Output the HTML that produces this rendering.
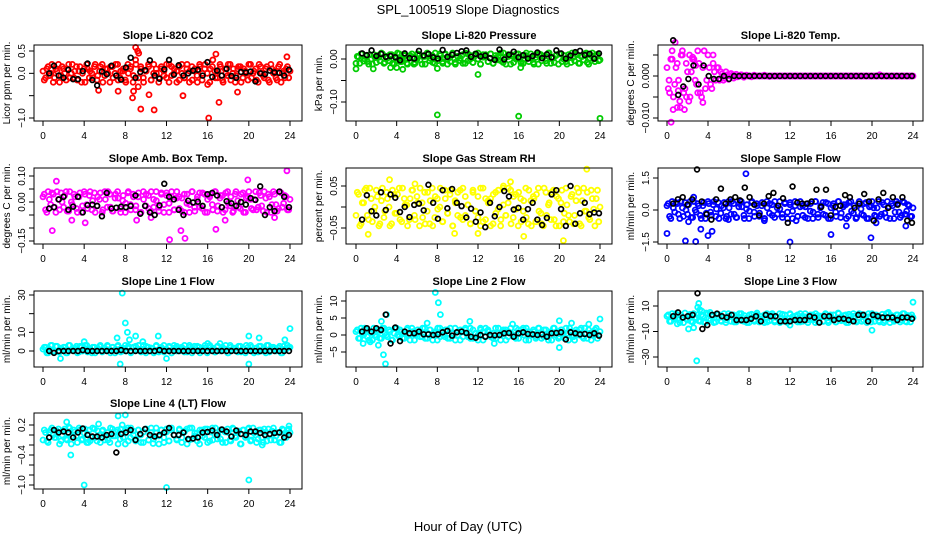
<!DOCTYPE html>
<html><head><meta charset="utf-8"><style>
html,body{margin:0;padding:0;background:#fff;}
svg{display:block;font-family:"Liberation Sans",sans-serif;}
</style></head>
<body>
<svg id="chart" width="936" height="540" viewBox="0 0 936 540">
<text x="468" y="14" text-anchor="middle" font-size="13">SPL_100519  Slope Diagnostics</text>
<text x="468" y="531" text-anchor="middle" font-size="13">Hour of Day (UTC)</text>
</svg>
<script>
// ---- data arrays (colored = all slopes; black = selected slopes) ----
const co2Vals=[.05,-.1,.15,0,-.2,.1,.2,-.05,.1,-.15,.2,0,-.1,.15,.05,-.2,.1,.2,-.1,0,.15,-.15,.05,.2,-.05,.1,-.2,.15,0,.2,-.1,.05,-.15,.2,.1,-.2,.3,-.3,.15,-.1,.05,.2,-.15,0,.1,-.2,.15,.05,-.1,.2,-.05,.1,-.2,.15,0,-.1,.2,.05,-.15,.1,-.2,.15,0,.2,-.25,.1,.3,-.1,.05,.15,-.2,0,.2,-.15,.1,-.05,.15,-.2,.1,0,.2,-.1,.05,-.15,.2,0,-.1,.15,-.2,.1,.05,-.15,.2,0,-.1,.15,.05];
const co2Vals2=[-.15,.1,-.05,.2,-.1,.05,-.2,.15,0,.1,-.1,.2,.05,-.15,.15,0,-.2,.1,.05,-.1,.2,-.05,.15,-.2,.1,0,.15,-.1,.2,-.15,.05,.1,-.2,0,.15,-.05,.2,-.1,.1,-.2,.05,.15,-.15,.2,0,-.1,.1,-.05,.2,-.2,.15,0,.05,-.15,.2,-.1,.1,-.2,.15,.05,-.05,.2,-.15,.1,0,-.2,.15,.05,-.1,.2,-.15,.1,-.05,.2,0,-.2,.1,.15,-.1,.05,-.15,.2,0,.1,-.2,.15,-.05,.1,-.15,.2,0,-.1,.15,-.2,.05,.1,-.1];
const co2OutX=[9,9.2,9.3,8.7,9.5,10.8,16.1,17.1,13.6,16.8,23.7,5.4,7.3,18.9,8.8,10.3];
const co2OutY=[.58,.5,.45,-.55,-.8,-.82,-1,-.65,-.5,.43,.37,-.38,-.4,-.42,-.4,-.48];
const co2Black=[0,.17,-.05,-.1,.08,-.13,-.13,.05,.22,-.15,-.27,.04,-.02,.17,-.05,-.14,.13,.35,-.1,.03,.07,.29,-.05,-.12,.09,.3,-.03,.18,-.05,0,.06,.08,-.05,.25,-.08,.06,-.05,.1,-.06,-.1,.03,.02,.04,-.18,0,-.02,.06,.02,.01,-.05,.08];

const presVals=[-.01,.005,.012,-.005,.008,-.012,0,.01,-.008,.004,.014,-.01,.006,-.004,.01,-.012,.002,.012,-.006,.008,-.01,.004,.012,-.008,0,.01,-.012,.006,.014,-.004,.008,-.01,.002,.012,-.006,.01,-.012,.004,.014,-.008,.006,-.004,.01,-.01,.012,0,-.008,.008,.014,-.012,.004,.01,-.006,.012,-.01,.002,.008,-.004,.014,-.012,.006,.01,-.008,.012,0,-.01,.008,.014,-.006,.004,-.012,.01,.012,-.004,.006,-.01,.014,.002,-.008,.01,.012,-.006,.008,-.012,.004,.014,-.004,.01,-.01,.006,.012,-.008,.002,.014,-.006,.01,-.002];
const presVals2=[.006,-.01,.012,0,-.006,.01,-.012,.004,.008,-.004,.012,-.008,.002,.01,-.01,.006,.014,-.006,0,.01,-.012,.008,.004,-.01,.012,-.002,.006,-.012,.01,.002,-.008,.014,-.004,.008,-.01,.012,0,-.006,.01,-.012,.006,.002,-.01,.014,-.004,.008,-.008,.012,0,-.012,.01,.004,-.006,.012,-.01,.008,-.002,.014,-.008,.004,.01,-.012,.006,0,.012,-.006,-.01,.008,.002,.012,-.008,.004,-.012,.01,.006,-.004,.014,-.01,.002,.008,-.012,.012,0,-.006,.01,-.008,.004,.012,-.01,.006,-.002,.014,-.012,.008,0,.01,-.004];
const presOutX=[0,1.7,3.4,4,4.6,8,12,8,16,24,16.2,5.7];
const presOutY=[-.023,-.023,-.02,-.02,-.024,-.022,-.036,-.13,-.133,-.138,-.02,-.012];
const presBlack=[.013,.009,.02,.007,.012,.005,.007,.004,-.003,.013,.002,.001,.019,.008,.012,.004,.001,.021,.005,.01,.014,.018,.02,.005,.012,.006,.008,.002,-.002,.022,-.001,.01,.017,.004,.009,.001,.007,.015,.002,.011,.004,.02,.013,.001,.008,.016,.019,.009,.012,.001,.013];

const tempVals=[.002,-.004,.006,-.002,.003,-.006,.005,-.003,.001,-.005,.004,-.001,.006,-.004,.002,-.003,.005,-.002,.003,-.001,.002,.001,-.001,.001,-.0008,.0006,-.0005,.0004,0,.0003,-.0003,.0002,0,-.0002,.0002,0,0,0,.0002,0,-.0001,0,0,0,0,0,0,0,0,0,0,0,0,0,0,0,0,0,0,0,0,0,0,0,0,0,0,0,0,0,0,0,0,0,0,0,0,0,0,0,0,0,0,.0003,0,0,0,0,0,0,0,0,0,0,0,0,0];
const tempVals2=[-.003,.004,-.005,.002,-.001,.005,-.004,.003,-.006,.001,.004,-.002,.003,-.005,.006,-.001,.002,-.003,.001,.002,-.001,.0005,-.0005,.0003,0,.0002,0,-.0002,0,0,0,0,0,0,0,0,0,0,0,0,0,0,0,0,0,0,0,0,0,0,0,0,0,0,0,0,0,0,0,0,0,0,0,0,0,0,0,0,0,0,0,0,0,0,0,0,0,0,0,0,0,0,0,0,0,0,0,0,0,0,0,0,0,0,0,0];
const tempOutX=[.4,.8,.6,1,1.3,1.7,3.5,4.5,2.2,1.9,.2,.5,1.5,2.5,3,2.8,1.1];
const tempOutY=[-.011,.008,-.008,-.0075,-.0075,-.008,-.0063,.005,.005,-.005,-.001,.004,.006,.0045,-.004,.0025,-.0035];
const tempBlack=[.0085,-.0045,-.0025,-.0007,.0025,-.002,.0025,0,-.0007,-.0007,0,-.0007,0,0,0,0,0,0,0,0,0,0,0,0,0,0,0,0,0,0,0,0,0,0,0,0,0,0,0,0,0,0,0,0,0,0,0,0];

const boxVals=[.02,-.03,.04,-.01,.03,-.04,.01,.035,-.02,.04,-.035,0,.03,-.025,.02,-.04,.04,-.01,.025,-.03,.035,-.015,.01,-.04,.04,-.02,.03,-.035,.015,.04,-.025,.005,-.04,.035,-.01,.03,-.03,.02,-.04,.04,-.015,.025,-.035,.01,.04,-.02,.03,-.04,.035,-.005,.02,-.03,.04,-.025,.015,-.04,.03,-.01,.04,-.035,.02,-.02,.035,-.04,.01,.03,-.03,.04,-.015,.025,-.04,.035,-.005,.02,-.035,.04,-.02,.03,-.04,.015,.04,-.025,.01,-.03,.035,-.015,.04,-.04,.02,-.01,.03,-.035,.04,-.02,.025,-.03,.01];
const boxVals2=[.03,-.04,.01,.035,-.02,.04,-.03,0,.025,-.035,.04,-.01,.02,-.04,.035,-.015,.03,-.025,.04,.005,-.04,.02,.035,-.03,.01,.04,-.02,-.035,.03,.015,-.04,.025,-.005,.04,-.03,.02,-.015,.035,-.04,.01,.03,-.025,.04,-.02,.005,-.035,.035,-.01,.025,-.04,.04,-.03,.015,.02,-.035,.03,-.005,-.04,.04,-.02,.01,.035,-.025,.03,-.04,.02,-.01,.04,-.035,.015,.025,-.03,.04,-.015,-.04,.03,.005,-.025,.035,-.04,.02,.01,-.03,.04,-.02,.025,-.035,.015,.03,-.04,.04,-.01,-.025,.035,-.005,.02,-.03];
const boxOutX=[.9,1.3,12.3,13.8,13.4,16.8,23.7,19.9,4.1,9.1,10.5,22.5,2.8,17.7];
const boxOutY=[-.11,.08,-.145,-.14,-.11,-.105,.12,.085,-.08,-.07,-.06,-.06,-.07,-.07];
const boxBlack=[-.025,-.02,.01,.02,-.03,-.018,.02,-.04,-.012,-.01,-.015,-.055,.035,-.025,-.022,-.018,-.02,-.015,.025,-.045,-.015,-.04,-.05,-.013,.07,.02,.01,-.03,-.05,.005,-.002,.001,-.015,.03,.035,.025,-.02,.003,-.005,-.015,.0,-.01,.015,.008,.06,-.05,-.02,-.035,.04,.02,-.02];

const rhVals=[-.02,.03,-.04,.01,.045,-.03,.02,-.01,.04,-.045,.015,-.025,.035,0,-.04,.03,-.015,.045,-.035,.02,.005,-.03,.04,-.02,.025,-.045,.01,.035,-.01,-.04,.045,-.025,.02,0,-.035,.04,-.015,.03,-.045,.015,-.02,.04,-.03,.025,.005,-.04,.035,-.01,-.025,.045,-.035,.02,.01,-.045,.03,-.015,.04,-.03,.005,-.02,.045,-.04,.025,-.005,.035,-.035,.015,-.025,.04,-.045,.02,.03,-.01,-.04,.045,-.02,.01,.035,-.03,.025,-.045,.04,-.015,.005,-.035,.03,-.02,.045,-.04,.015,-.01,.035,-.03,.02,-.045,.04,0];
const rhVals2=[.035,-.045,.01,.04,-.02,.045,-.035,0,.025,-.04,.045,-.01,.02,-.045,.04,-.015,.03,-.03,.045,.005,-.045,.02,.04,-.03,.01,.045,-.025,-.04,.035,.015,-.045,.025,-.005,.045,-.035,.02,-.015,.04,-.045,.01,.035,-.025,.045,-.02,.005,-.04,.04,-.01,.025,-.045,.045,-.03,.015,.02,-.04,.035,-.005,-.045,.045,-.02,.01,.04,-.025,.03,-.045,.02,-.01,.045,-.04,.015,.025,-.035,.045,-.015,-.045,.035,.005,-.03,.04,-.045,.02,.01,-.035,.045,-.02,.025,-.04,.015,.035,-.045,.045,-.01,-.025,.04,-.005,.02,-.035];
const rhOutX=[20.4,22.7,15.2,3.3,1.2,9.7,16.5,12,5.8,14.5];
const rhOutY=[-.08,.09,.06,.065,-.065,-.063,-.07,-.063,.055,.05];
const rhBlack=[-.03,.028,-.01,-.02,.035,-.007,.03,.022,-.012,.0,-.024,.005,.008,-.008,.053,.01,-.028,.04,-.003,.043,.01,.002,-.025,-.004,-.035,-.013,-.048,.01,-.022,.0,.038,.025,-.006,-.002,-.03,-.005,.01,-.03,-.043,-.026,.03,.04,-.005,-.045,.05,-.04,-.015,.01,-.017,-.013,-.015];

const sfVals=[.2,-.3,.4,-.1,.3,-.4,.1,.35,-.2,.4,-.35,0,.3,-.25,.2,-.4,.4,-.1,.25,-.3,.35,-.15,.1,-.4,.4,-.2,.3,-.35,.15,.4,-.25,.05,-.4,.35,-.1,.3,-.3,.2,-.4,.4,-.15,.25,-.35,.1,.4,-.2,.3,-.4,.35,-.05,.2,-.3,.4,-.25,.15,-.4,.3,-.1,.4,-.35,.2,-.2,.35,-.4,.1,.3,-.3,.4,-.15,.25,-.4,.35,-.05,.2,-.35,.4,-.2,.3,-.4,.15,.4,-.25,.1,-.3,.35,-.15,.4,-.4,.2,-.1,.3,-.35,.4,-.2,.25,-.3,.1];
const sfVals2=[.3,-.4,.1,.35,-.2,.4,-.3,0,.25,-.35,.4,-.1,.2,-.4,.35,-.15,.3,-.25,.4,.05,-.4,.2,.35,-.3,.1,.4,-.2,-.35,.3,.15,-.4,.25,-.05,.4,-.3,.2,-.15,.35,-.4,.1,.3,-.25,.4,-.2,.05,-.35,.35,-.1,.25,-.4,.4,-.3,.15,.2,-.35,.3,-.05,-.4,.4,-.2,.1,.35,-.25,.3,-.4,.2,-.1,.4,-.35,.15,.25,-.3,.4,-.15,-.4,.3,.05,-.25,.35,-.4,.2,.1,-.3,.4,-.2,.25,-.35,.15,.3,-.4,.4,-.1,-.25,.35,-.05,.2,-.3];
const sfOutX=[0,1.8,2.8,12,19.9,7.7,3.3,4,4.4,16,17.5,20.4,23.3,2.1,6,9.5,12.6,2.6];
const sfOutY=[-1.1,-1.45,-1.48,-1.5,-1.3,1.7,-.9,-1.2,-1,-1.15,-.75,-.6,-.75,-.55,-.45,-.5,-.5,.6];
const sfBlack=[.3,.5,.6,.25,.5,1.9,.4,-.2,-.45,.5,1.0,.3,.5,.6,.45,1.05,.6,.25,-.25,.3,.65,.8,.2,.55,-.6,1.1,.35,.3,.3,.4,.95,.15,.95,-.25,.15,.2,.7,.6,.1,.3,.75,.4,-.5,.5,.8,.1,.6,.25,.6,-.5,-.6];

const l1Vals=[1,2,-1,3,0,2.5,-.5,1.5,2,-1,3,.5,1,2.5,-.5,2,1.5,3,0,-1,2,1,2.5,-.5,1.5,3,.5,2,-1,2.5,1,0,3,1.5,-.5,2,2.5,.5,1,3,-1,2,1.5,0,2.5,-.5,1,3,.5,2,-1,1.5,2.5,0,1,3,-.5,2,1.5,.5,2.5,-1,1,3,0,2,1.5,-.5,2.5,.5,1,3,-1,2,1.5,0,2.5,-.5,1,3,.5,2,-1,1.5,2.5,0,1,3,-.5,2,1.5,.5,2.5,-1,1,3,2];
const l1Vals2=[2,-1,1,3,0,2.5,-.5,1,2,-1,3,.5,1.5,-1,2.5,0,3,-.5,1,2,-1,1.5,3,0,.5,2.5,-1,2,1,3,-.5,1.5,0,2.5,-1,2,.5,3,-.5,1,2.5,0,1.5,-1,3,.5,2,-.5,1,2.5,-1,3,0,1.5,2,-.5,1,3,-1,2.5,.5,2,0,1.5,-1,3,1,-.5,2.5,0,2,1,-1,3,.5,1.5,-.5,2.5,1,-1,2,3,0,1.5,-.5,2.5,1,-1,3,.5,2,0,1.5,-1,2.5,1,2];
const l1OutX=[7.7,8,8.2,8.4,7.5,20,24,9,11.2,20,7.2,9.7,17.2,21,23.5,16,4,1.7,12];
const l1OutY=[31,15,10,6,-7,-7,12,8,8,8,7,5,4,7,6,4,5,-4,-4];
const l1Black=[0,-1,0,0,0,0,0,.5,0,0,0,0,0,0,0,.5,0,0,0,0,0,0,0,.5,0,0,0,0,0,0,0,0,0,0,0,0,0,0,0,0,0,0,0,0,0,0,0,0,0,0,0];

const l2Vals=[1,-1,2,0,1.5,-1.5,.5,2,-.5,1,-1,2,0,1.5,-1.5,.5,2,-.5,1,-1,1.5,0,2,-1.5,.5,1,-.5,2,-1,1.5,0,.5,-1.5,2,1,-.5,1.5,-1,.5,2,0,-1.5,1,1.5,-.5,2,-1,.5,0,1.5,-1.5,2,1,-.5,.5,-1,2,0,1.5,-1.5,1,.5,-.5,2,-1,1.5,0,2,-1.5,.5,1,-.5,2,-1,1.5,0,.5,-1.5,2,1,-.5,1.5,-1,.5,2,0,-1.5,1,1.5,-.5,2,-1,.5,0,1.5,-1,1];
const l2Vals2=[1.5,-1,.5,2,-.5,1,-1.5,0,1.5,-1,2,.5,-.5,1,-1.5,2,0,1.5,-1,.5,2,-1.5,1,0,1.5,-.5,2,-1,.5,1.5,-1.5,1,2,-.5,0,1.5,-1,2,.5,-1.5,1,1.5,-.5,2,0,-1,1.5,.5,-1.5,2,1,-.5,1.5,0,-1,2,.5,-1.5,1,1.5,-.5,2,0,-1,1.5,.5,2,-1.5,1,0,1.5,-1,2,.5,-.5,1.5,-1.5,1,2,0,-1,1.5,.5,2,-1.5,1,-.5,1.5,0,2,-1,.5,1.5,-1.5,1,2,0];
const l2OutX=[7.8,8.1,8.3,2.9,2.7,2.2,2.5,20,20,24,3,11.2,15.4,13.6,.7,21.2,22.9,7,1.4];
const l2OutY=[12.5,9.5,6,-8.5,-5.8,-3,4,-3.7,4.2,4.7,6,4,3.2,-2.5,-2.5,3.5,3.2,3.5,-2];
const l2Black=[1,2,1,2,1.5,6,-2.5,2.2,-1.8,1,.5,.5,1,.2,.2,0,.2,.8,1.2,-.2,.8,1,.6,-.5,-.8,0,-.5,0,-.1,0,.5,.6,-.5,.5,.8,.3,.2,0,.2,-.5,.5,.6,.8,-1.3,.8,.5,.2,.3,0,.5,-.2];

const l3Vals=[2,-2,4,0,3,-3,1,4.5,-1,3.5,-2.5,0,3,-2,2,-3,4,-1,2.5,-2.5,3.5,-1.5,1,-3,4,-2,3,-2.5,1.5,4,-2,.5,-3,3.5,-1,3,-2.5,2,-3,4,-1.5,2.5,-2.5,1,4,-2,3,-3,3.5,-.5,2,-2.5,4,-2,1.5,-3,3,-1,4,-2.5,2,-2,3.5,-3,1,3,-2.5,4,-1.5,2.5,-3,3.5,-.5,2,-2.5,4,-2,3,-3,1.5,4,-2,1,-2.5,3.5,-1.5,4,-3,2,-1,3,-2.5,4,-2,2.5,-2.5,1];
const l3Vals2=[3,-2,1,4,-1,3,-3,0,2.5,-2,4,1,-1.5,3,-2.5,4.5,0,2,-3,3.5,1,-2,4,-1,2,3,-2.5,0,4,-1.5,2.5,-3,3,1,-2,4.5,0,-1,3,-2.5,2,4,-1.5,1,-3,3.5,0,-2,4,1.5,-1,3,-2.5,2,4,-1,0,3,-3,2.5,1,-2,4,-1.5,3,0,-2.5,4.5,1,-1,3,-3,2,4,-2,1,3.5,-1,0,4,-2.5,2,3,-1.5,1,-3,4,0,2.5,-2,3,1,-1,4,-2.5,2,3];
const l3OutX=[2.9,3.1,3,24,20,2.1,2.6,3.2,4.2,21.6,12,1,3.4];
const l3OutY=[-33,12,9,13,-9,-8,-7,7,5,5,-5,-4,6];
const l3Black=[2,5,1,2,3,20,-8,-5,3,4,2,1,3,-1,-1,-1,0,2,-2,3,2,2,-2,-2,-2,-1,-1,-1,2,1,-3,2,2,-1,0,0,-1,-2,3,3,-2,3,2,1,1,1,-1,1,1,0];

const l4Vals=[-.1,.05,-.15,.1,0,-.05,.12,-.12,.08,-.08,.02,-.18,.1,-.02,.14,-.1,.04,-.15,.1,-.05,.12,-.12,0,.08,-.1,.05,-.15,.12,-.02,.1,-.08,.04,-.18,.14,-.05,.08,-.12,.1,0,-.15,.12,-.1,.05,-.08,.14,-.02,.1,-.15,.06,-.12,.1,0,-.1,.12,-.05,.08,-.18,.14,-.08,.04,-.12,.1,-.02,.12,-.15,.06,-.1,.14,0,-.08,.1,-.15,.05,-.12,.12,-.05,.08,-.18,.1,-.02,.14,-.1,.04,-.15,.1,-.05,.12,-.12,0,.08,-.1,.05,-.15,.12,-.02,.1,.05];
const l4Vals2=[.1,-.12,.05,.14,-.05,.08,-.18,0,.12,-.1,.14,-.02,.06,-.15,.1,-.08,.12,.02,-.12,.14,-.05,.08,-.15,.1,0,-.1,.14,-.02,.06,-.18,.12,-.05,.1,-.12,.14,0,-.08,.1,-.15,.06,.12,-.1,.14,-.02,.04,-.18,.1,-.05,.12,-.12,.14,0,-.08,.1,-.15,.06,.12,-.1,.14,-.02,.04,-.18,.1,-.05,.12,-.12,.14,0,-.08,.1,-.15,.06,.12,-.1,.14,-.02,.04,-.18,.1,-.05,.12,-.12,.14,0,-.08,.1,-.15,.06,.12,-.1,.14,-.02,.04,-.15,.1,-.05,.12];
const l4OutX=[4,12,20,2.7,7.3,8,2.3,5.4,7.7,21.3,4.4,10.7,2.5,23.9];
const l4OutY=[-1,-1.05,-.9,-.4,.38,.4,.26,.22,.2,-.2,-.15,-.17,.16,.18];
const l4Black=[-.05,.1,.05,.07,.05,-.05,.05,.13,.0,-.03,-.03,-.05,0,.02,-.35,.02,.05,.1,-.1,.02,.12,0,-.03,0,.05,.14,0,0,.05,-.08,-.07,-.05,.05,.06,.09,0,.11,.07,-.03,.09,.02,.0,.07,.07,.04,0,.02,.04,.05,-.05,0];

// ---- panel layout ----
const cols=[[34,302,43,290],[346,612,356,600],[658,923,667,913]];
const rows=[[45,121],[168,244],[291,367],[413,489]];
const hourTicks=[0,4,8,12,16,20,24];
const panels=[
 {name:'co2',title:'Slope Li-820 CO2',ylab:'Licor ppm per min.',c:0,r:0,col:'#ff0000',vals:co2Vals,vals2:co2Vals2,ox:co2OutX,oy:co2OutY,blk:co2Black,yref:[0.5,51,-1.0,118],ticks:[0.5,0,-0.5,-1.0],labels:['0.5','0.0','','\u22121.0']},
 {name:'pressure',title:'Slope Li-820 Pressure',ylab:'kPa per min.',c:1,r:0,col:'#00cc00',vals:presVals,vals2:presVals2,ox:presOutX,oy:presOutY,blk:presBlack,yref:[0,59,-0.1,102],ticks:[0,-0.05,-0.1],labels:['0.00','','\u22120.10']},
 {name:'temp',title:'Slope Li-820 Temp.',ylab:'degrees C per min.',c:2,r:0,col:'#ff00ff',vals:tempVals,vals2:tempVals2,ox:tempOutX,oy:tempOutY,blk:tempBlack,yref:[0,76,0.005,55],ticks:[0.005,0,-0.005,-0.01],labels:['','0.000','','\u22120.010']},
 {name:'box-temp',title:'Slope Amb. Box Temp.',ylab:'degrees C per min.',c:0,r:1,col:'#ff00ff',vals:boxVals,vals2:boxVals2,ox:boxOutX,oy:boxOutY,blk:boxBlack,yref:[0,202,0.1,176],ticks:[0.1,0.05,0,-0.05,-0.1,-0.15],labels:['0.10','','0.00','','','\u22120.15']},
 {name:'rh',title:'Slope Gas Stream RH',ylab:'percent per min.',c:1,r:1,col:'#ffff00',vals:rhVals,vals2:rhVals2,ox:rhOutX,oy:rhOutY,blk:rhBlack,yref:[0,207,0.05,186],ticks:[0.05,0,-0.05],labels:['0.05','','\u22120.05']},
 {name:'sample-flow',title:'Slope Sample Flow',ylab:'ml/min per min.',c:2,r:1,col:'#0000ff',vals:sfVals,vals2:sfVals2,ox:sfOutX,oy:sfOutY,blk:sfBlack,yref:[0,210,1.5,178],ticks:[1.5,0,-1.5],labels:['1.5','0.0','\u22121.5']},
 {name:'line1-flow',title:'Slope Line 1 Flow',ylab:'ml/min per min.',c:0,r:2,col:'#00ffff',vals:l1Vals,vals2:l1Vals2,ox:l1OutX,oy:l1OutY,blk:l1Black,yref:[0,351,30,295],ticks:[30,20,10,0],labels:['30','','10','0']},
 {name:'line2-flow',title:'Slope Line 2 Flow',ylab:'ml/min per min.',c:1,r:2,col:'#00ffff',vals:l2Vals,vals2:l2Vals2,ox:l2OutX,oy:l2OutY,blk:l2Black,yref:[0,335,10,301],ticks:[10,5,0,-5],labels:['10','5','0','\u22125']},
 {name:'line3-flow',title:'Slope Line 3 Flow',ylab:'ml/min per min.',c:2,r:2,col:'#00ffff',vals:l3Vals,vals2:l3Vals2,ox:l3OutX,oy:l3OutY,blk:l3Black,yref:[10,306,-30,357],ticks:[10,-10,-30],labels:['10','\u221210','\u221230']},
 {name:'line4-flow',title:'Slope Line 4 (LT) Flow',ylab:'ml/min per min.',c:0,r:3,col:'#00ffff',vals:l4Vals,vals2:l4Vals2,ox:l4OutX,oy:l4OutY,blk:l4Black,yref:[0.2,425,-1.0,485],ticks:[0.2,0,-0.2,-0.4,-0.6,-0.8,-1.0],labels:['0.2','','','\u22120.4','','','\u22121.0']}
];

const NS='http://www.w3.org/2000/svg';
const svg=document.getElementById('chart');
function mk(tag,attrs,parent){const e=document.createElementNS(NS,tag);for(const k in attrs)e.setAttribute(k,attrs[k]);(parent||svg).appendChild(e);return e;}

panels.forEach(p=>{
  const [L,R,x0,x24]=cols[p.c];const [T,B]=rows[p.r];
  const xs=h=>x0+(x24-x0)*h/24;
  const [v1,p1,v2,p2]=p.yref;
  const ys=v=>p1+(v-v1)*(p2-p1)/(v2-v1);
  const g=mk('g',{});
  
  
  const t=mk('text',{x:(L+R)/2,y:T-6,'text-anchor':'middle','font-size':'11','font-weight':'bold'},g);
  t.textContent=p.title;
  
  
  const cg=mk('g',{fill:'none',stroke:p.col,'stroke-width':'1.8'},g);
  
  
  const n=p.vals.length;
  p.vals.forEach((v,i)=>{
    const c=mk('circle',{cx:xs(i*24/(n-1)),cy:ys(v),r:2.5},cg);
    
    
  });
  const n2=p.vals2.length;
  p.vals2.forEach((v,i)=>{
    const c=mk('circle',{cx:xs((i+0.5)*24/n2),cy:ys(v),r:2.5},cg);
    
    
  });
  p.ox.forEach((h,i)=>{
    const c=mk('circle',{cx:xs(h),cy:ys(p.oy[i]),r:2.5},cg);
    
    
  });
  const bg=mk('g',{fill:'none',stroke:'#000','stroke-width':'1.7'},g);
  
  
  const m=p.blk.length;
  p.blk.forEach((v,i)=>{
    const c=mk('circle',{cx:xs(0.6+i*23.3/(m-1)),cy:ys(v),r:2.4},bg);
    
    
  });
  const box=mk('rect',{x:L,y:T,width:R-L,height:B-T,fill:'none',stroke:'#000','stroke-width':'1'},g);
  
  
  const xa=mk('g',{},g);
  
  
  mk('line',{x1:xs(0),x2:xs(24),y1:B,y2:B,stroke:'#000'},xa);
  hourTicks.forEach(h=>{
    mk('line',{x1:xs(h),x2:xs(h),y1:B,y2:B+5,stroke:'#000'},xa);
    const tl=mk('text',{x:xs(h),y:B+18,'text-anchor':'middle','font-size':'10'},xa);
    tl.textContent=h;
    
    
  });
  const ya=mk('g',{},g);
  
  
  mk('line',{x1:L,x2:L,y1:ys(p.ticks[0]),y2:ys(p.ticks[p.ticks.length-1]),stroke:'#000'},ya);
  p.ticks.forEach((v,i)=>{
    const y=ys(v);
    mk('line',{x1:L-5,x2:L,y1:y,y2:y,stroke:'#000'},ya);
    if(p.labels[i]){
      const tl=mk('text',{x:L-9,y:y,'text-anchor':'middle','font-size':'10',transform:`rotate(-90 ${L-9} ${y})`},ya);
      tl.textContent=p.labels[i];
      
      
    }
  });
  const yt=mk('text',{x:L-24,y:(T+B)/2,'text-anchor':'middle','font-size':'10',transform:`rotate(-90 ${L-24} ${(T+B)/2})`},g);
  yt.textContent=p.ylab;
  
  
});
</script>
</body></html>
